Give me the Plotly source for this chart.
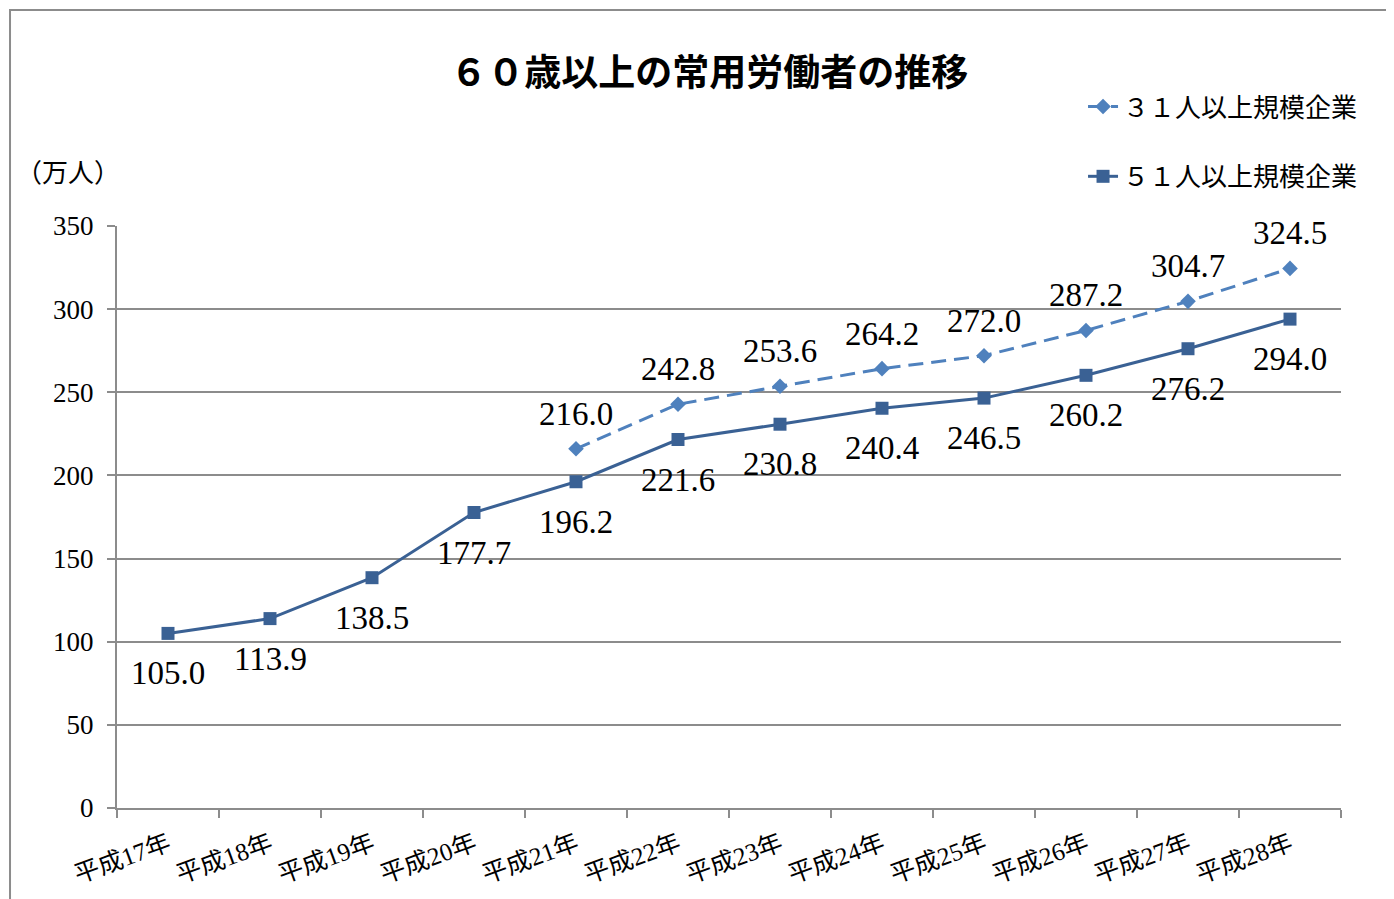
import plotly.graph_objects as go

categories = ["平成17年", "平成18年", "平成19年", "平成20年", "平成21年", "平成22年",
              "平成23年", "平成24年", "平成25年", "平成26年", "平成27年", "平成28年"]
over31 = [None, None, None, None, 216.0, 242.8, 253.6, 264.2, 272.0, 287.2, 304.7, 324.5]
over51 = [105.0, 113.9, 138.5, 177.7, 196.2, 221.6, 230.8, 240.4, 246.5, 260.2, 276.2, 294.0]
name31 = "３１人以上規模企業"
name51 = "５１人以上規模企業"
yticks = [0, 50, 100, 150, 200, 250, 300, 350]

c31 = "#4F81BD"
c51 = "#3A6194"
serif = "Liberation Serif, DejaVu Serif, Noto Sans CJK JP, serif"
jp = "Noto Sans CJK JP, sans-serif"

fig = go.Figure()
fig.add_trace(go.Scatter(
    x=categories, y=over31, mode="lines+markers", name=name31,
    line=dict(color=c31, width=3, dash="15px,8px"),
    marker=dict(symbol="diamond", size=12, color=c31),
    legendgroup="a", connectgaps=False))
fig.add_trace(go.Scatter(
    x=categories, y=over51, mode="lines+markers", name=name51,
    line=dict(color=c51, width=3),
    marker=dict(symbol="square", size=13, color=c51),
    legendgroup="b"))

for c, v in zip(categories, over31):
    if v is not None:
        fig.add_annotation(x=c, y=v, text=f"{v:.1f}", showarrow=False, yshift=35,
                           font=dict(family=serif, size=33, color="#000"))
for c, v in zip(categories, over51):
    fig.add_annotation(x=c, y=v, text=f"{v:.1f}", showarrow=False, yshift=-40,
                       font=dict(family=serif, size=33, color="#000"))

fig.add_annotation(xref="paper", yref="paper", x=-0.040, y=1.096, text="（万人）",
                   showarrow=False, xanchor="center", yanchor="middle",
                   font=dict(family=jp, size=26, color="#000"))

# outer border
fig.add_shape(type="rect", xref="paper", yref="paper",
              x0=-0.0874, y0=-0.17, x1=1.06, y1=1.3711,
              line=dict(color="#8C8C8C", width=2), layer="below")

fig.update_layout(
    width=1386, height=891,
    paper_bgcolor="white", plot_bgcolor="white",
    margin=dict(l=109, r=53, t=218, b=91, autoexpand=False),
    title=dict(text="<b>６０歳以上の常用労働者の推移</b>", x=0.506, xanchor="center",
               y=0.927, yanchor="middle",
               font=dict(family=jp, size=37, color="#000")),
    showlegend=True,
    legend=dict(x=1.018, xanchor="right", y=1.145, yanchor="middle",
                font=dict(family=jp, size=26, color="#000"),
                tracegroupgap=33, traceorder="grouped",
                bgcolor="rgba(0,0,0,0)"),
    xaxis=dict(type="category", range=[-0.5, 11.5], tickangle=-20, tickson="boundaries",
               ticks="outside", ticklen=8, tickcolor="#8C8C8C", tickwidth=2,
               ticklabelstandoff=10,
               showline=True, linecolor="#8C8C8C", linewidth=2,
               showgrid=False, automargin=False,
               tickfont=dict(family=serif, size=25, color="#000")),
    yaxis=dict(range=[0, 350], tickvals=yticks, ticks="outside", ticklen=8,
               tickcolor="#8C8C8C", tickwidth=2, ticklabelstandoff=8,
               showline=True, linecolor="#8C8C8C", linewidth=2,
               showgrid=True, gridcolor="#8C8C8C", gridwidth=1.5,
               zeroline=False, automargin=False,
               tickfont=dict(family=serif, size=27, color="#000")),
)

fig.write_html("out.html")
